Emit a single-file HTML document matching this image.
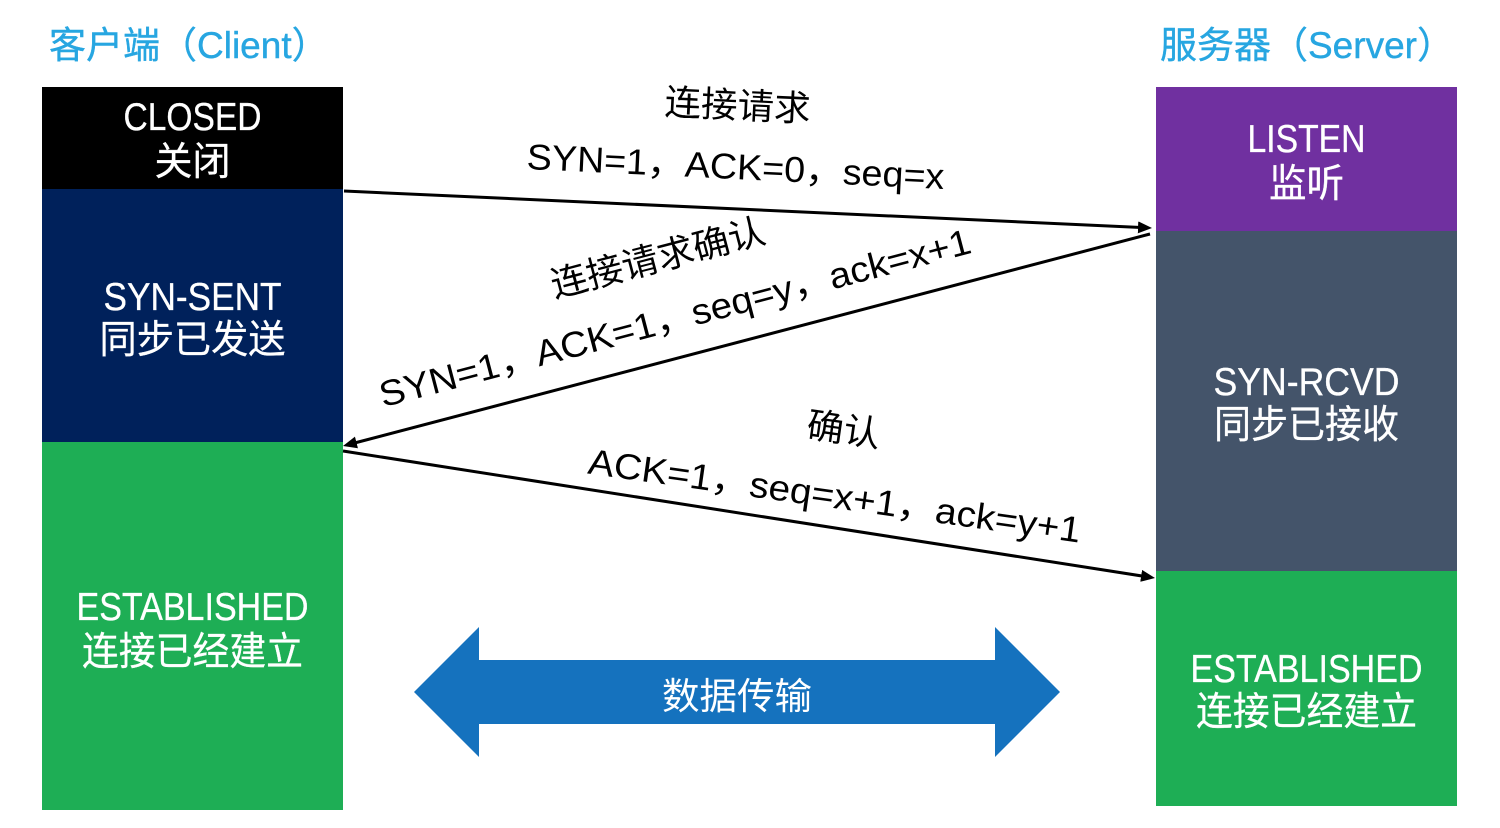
<!DOCTYPE html>
<html>
<head>
<meta charset="utf-8">
<style>
  html, body { margin: 0; padding: 0; background: #ffffff; }
  body { width: 1500px; height: 828px; overflow: hidden; }
  svg { display: block; }
  text { font-family: "Liberation Sans", "Noto Sans CJK SC", sans-serif; }
</style>
</head>
<body>
<svg width="1500" height="828" viewBox="0 0 1500 828" xmlns="http://www.w3.org/2000/svg">
  <defs>
    <marker id="ah" markerWidth="14" markerHeight="12" refX="6" refY="6" orient="auto" markerUnits="userSpaceOnUse">
      <path d="M0,0 L14,6 L0,12 z" fill="#000"/>
    </marker>
  </defs>

  <!-- Titles -->
  <text x="49" y="58" font-size="37" fill="#27A6E1" stroke="#27A6E1" stroke-width="0.4">客户端（Client）</text>
  <text x="1160" y="58" font-size="37" fill="#27A6E1" stroke="#27A6E1" stroke-width="0.4">服务器（Server）</text>

  <!-- Client column -->
  <rect x="42" y="87" width="301" height="102" fill="#000000"/>
  <rect x="42" y="189" width="301" height="253" fill="#00215B"/>
  <rect x="42" y="442" width="301" height="368" fill="#1EAE55"/>

  <!-- Server column -->
  <rect x="1156" y="87" width="301" height="144" fill="#7030A0"/>
  <rect x="1156" y="231" width="301" height="340" fill="#44546A"/>
  <rect x="1156" y="571" width="301" height="235" fill="#1EAE55"/>

  <!-- Client labels -->
  <g fill="#ffffff" stroke="#ffffff" stroke-width="0.3" font-size="39" text-anchor="middle">
    <text x="192.5" y="130" textLength="138" lengthAdjust="spacingAndGlyphs">CLOSED</text>
    <text x="192.5" y="175" textLength="76" lengthAdjust="spacingAndGlyphs">关闭</text>
    <text x="192.5" y="310" textLength="178" lengthAdjust="spacingAndGlyphs">SYN-SENT</text>
    <text x="192.5" y="353" textLength="186" lengthAdjust="spacingAndGlyphs">同步已发送</text>
    <text x="192.5" y="620" textLength="232" lengthAdjust="spacingAndGlyphs">ESTABLISHED</text>
    <text x="192.5" y="665" textLength="221" lengthAdjust="spacingAndGlyphs">连接已经建立</text>
  </g>

  <!-- Server labels -->
  <g fill="#ffffff" stroke="#ffffff" stroke-width="0.3" font-size="39" text-anchor="middle">
    <text x="1306.5" y="152" textLength="118" lengthAdjust="spacingAndGlyphs">LISTEN</text>
    <text x="1306.5" y="197" textLength="75" lengthAdjust="spacingAndGlyphs">监听</text>
    <text x="1306.5" y="395" textLength="186" lengthAdjust="spacingAndGlyphs">SYN-RCVD</text>
    <text x="1306.5" y="438" textLength="185" lengthAdjust="spacingAndGlyphs">同步已接收</text>
    <text x="1306.5" y="682" textLength="232" lengthAdjust="spacingAndGlyphs">ESTABLISHED</text>
    <text x="1306.5" y="725" textLength="221" lengthAdjust="spacingAndGlyphs">连接已经建立</text>
  </g>

  <!-- Arrow lines -->
  <g stroke="#000" stroke-width="3" fill="none">
    <line x1="344" y1="191" x2="1144" y2="227.6" marker-end="url(#ah)"/>
    <line x1="1150" y1="234" x2="350.7" y2="444" marker-end="url(#ah)"/>
    <line x1="343" y1="451" x2="1147.1" y2="576.8" marker-end="url(#ah)"/>
  </g>

  <!-- Arrow 1 labels -->
  <g fill="#000" font-size="36" text-anchor="middle">
    <g transform="rotate(2.75 737 118)">
      <text x="737" y="118" textLength="146" lengthAdjust="spacingAndGlyphs">连接请求</text>
    </g>
    <g transform="rotate(2.75 735 179)">
      <text x="735" y="179" textLength="418" lengthAdjust="spacingAndGlyphs">SYN=1，ACK=0，seq=x</text>
    </g>
  </g>

  <!-- Arrow 2 labels -->
  <g fill="#000" font-size="36" text-anchor="middle">
    <g transform="rotate(-14.7 661 270)">
      <text x="661" y="270" textLength="220" lengthAdjust="spacingAndGlyphs">连接请求确认</text>
    </g>
    <g transform="rotate(-14.7 678 330)">
      <text x="678" y="330" textLength="610" lengthAdjust="spacingAndGlyphs">SYN=1，ACK=1，seq=y，ack=x+1</text>
    </g>
  </g>

  <!-- Arrow 3 labels -->
  <g fill="#000" font-size="36" text-anchor="middle">
    <g transform="rotate(8 842 442)">
      <text x="842" y="442" textLength="74" lengthAdjust="spacingAndGlyphs">确认</text>
    </g>
    <g transform="rotate(8 833 508)">
      <text x="833" y="508" textLength="497" lengthAdjust="spacingAndGlyphs">ACK=1，seq=x+1，ack=y+1</text>
    </g>
  </g>

  <!-- Data transfer double arrow -->
  <polygon points="414,692 479,627 479,660 995,660 995,627 1060,692 995,757 995,724 479,724 479,757" fill="#1572BE"/>
  <text x="737" y="709" font-size="37" fill="#ffffff" text-anchor="middle" textLength="150" lengthAdjust="spacingAndGlyphs">数据传输</text>
</svg>
</body>
</html>
